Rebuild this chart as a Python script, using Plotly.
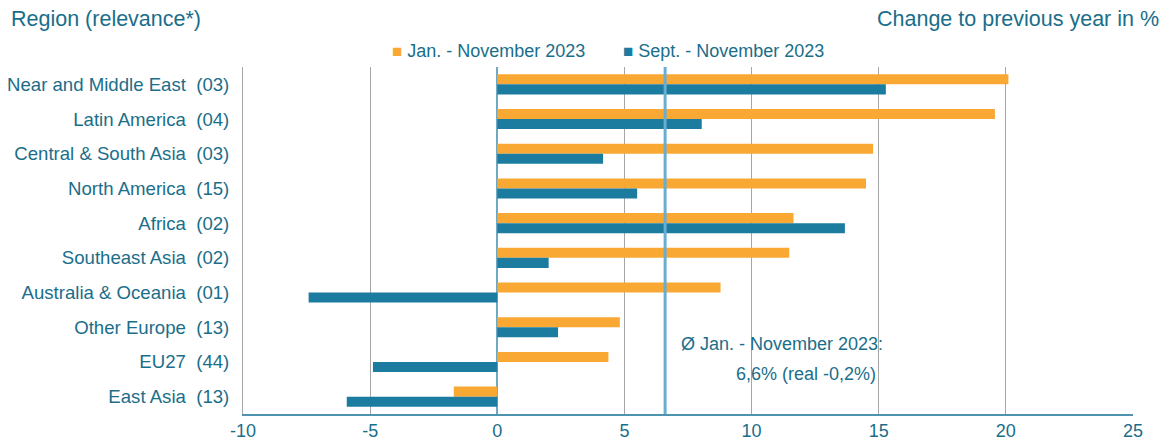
import plotly.graph_objects as go

NB = "\u00a0"
regions = ["Near and Middle East", "Latin America", "Central & South Asia", "North America",
           "Africa", "Southeast Asia", "Australia & Oceania", "Other Europe", "EU27", "East Asia"]
relevance = ["03", "04", "03", "15", "02", "02", "01", "13", "44", "13"]
jan_nov = [20.1, 19.57, 14.78, 14.5, 11.65, 11.48, 8.78, 4.82, 4.37, -1.71]
sep_nov = [15.28, 8.04, 4.16, 5.5, 13.67, 2.02, -7.42, 2.39, -4.89, -5.92]
avg_value = 6.6
x_ticks = [-10, -5, 0, 5, 10, 15, 20, 25]
series_names = ["Jan. - November 2023", "Sept. - November 2023"]

labels = [f"{r}{NB}{NB}({v})" for r, v in zip(regions, relevance)]

ORANGE = "#F9A833"
BLUE = "#1B7C9F"
TEXT = "#1A6E8A"
FONT = "Liberation Sans, Arial, sans-serif"

W, H = 1162, 433
L, R, T, B = 235, 37, 59, 27
PW = W - L - R

fig = go.Figure()
fig.add_trace(go.Bar(y=labels, x=jan_nov, orientation="h", name=series_names[0],
                     marker=dict(color=ORANGE, line=dict(width=0))))
fig.add_trace(go.Bar(y=labels, x=sep_nov, orientation="h", name=series_names[1],
                     marker=dict(color=BLUE, line=dict(width=0))))

fig.add_shape(type="line", xref="x", yref="paper", x0=avg_value, x1=avg_value, y0=0, y1=1,
              line=dict(color="#6AADD2", width=3), layer="above")

fig.update_layout(
    width=W, height=H,
    margin=dict(l=L, r=R, t=T, b=B, autoexpand=False),
    paper_bgcolor="white", plot_bgcolor="white",
    barmode="group", bargap=0.42, bargroupgap=0,
    font=dict(family=FONT, color=TEXT, size=18),
    showlegend=False,
    xaxis=dict(range=[-10, 25], tickvals=x_ticks, ticktext=[str(v) for v in x_ticks],
               showgrid=True, gridcolor="#A6A6A6", gridwidth=1,
               zeroline=True, zerolinecolor="#6FA8C0", zerolinewidth=1.5,
               showline=True, linecolor="#4E94B0", linewidth=1.5, automargin=False,
               tickfont=dict(size=18, color=TEXT), ticks="", ticklen=0, ticklabelstandoff=0),
    yaxis=dict(autorange="reversed", showgrid=False, showline=True, linecolor="#A6A6A6", linewidth=1,
               automargin=False,
               tickfont=dict(size=18.6, color=TEXT), ticks="", ticklen=0, ticklabelstandoff=9),
)

# Titles
fig.add_annotation(text="Region (relevance*)", xref="paper", yref="paper", x=(1 - L) / PW, y=1,
                   xanchor="left", yanchor="middle", yshift=48, showarrow=False,
                   font=dict(size=21.5, color=TEXT))
fig.add_annotation(text="Change to previous year in %", xref="paper", yref="paper", x=1 + 28 / PW, y=1,
                   xanchor="right", yanchor="middle", yshift=48, showarrow=False,
                   font=dict(size=21.5, color=TEXT))

# Legend
sq = '<span style="font-size:17px;color:{c}">■</span> {t}'
fig.add_annotation(text=sq.format(c=ORANGE, t=series_names[0]), xref="paper", yref="paper",
                   x=(382 - L) / PW, y=1, xanchor="left", yanchor="middle", yshift=16,
                   showarrow=False, font=dict(size=18, color=TEXT))
fig.add_annotation(text=sq.format(c=BLUE, t=series_names[1]), xref="paper", yref="paper",
                   x=(613 - L) / PW, y=1, xanchor="left", yanchor="middle", yshift=16,
                   showarrow=False, font=dict(size=18, color=TEXT))

# Average note
fig.add_annotation(text="Ø Jan. - November 2023:", xref="x", yref="paper", x=7.13, y=(414 - 344) / 347,
                   xanchor="left", yanchor="middle", showarrow=False, font=dict(size=18, color=TEXT))
fig.add_annotation(text="6,6% (real -0,2%)", xref="x", yref="paper", x=9.3, y=(414 - 374) / 347,
                   xanchor="left", yanchor="middle", showarrow=False, font=dict(size=18, color=TEXT))

fig.write_html("out.html")
